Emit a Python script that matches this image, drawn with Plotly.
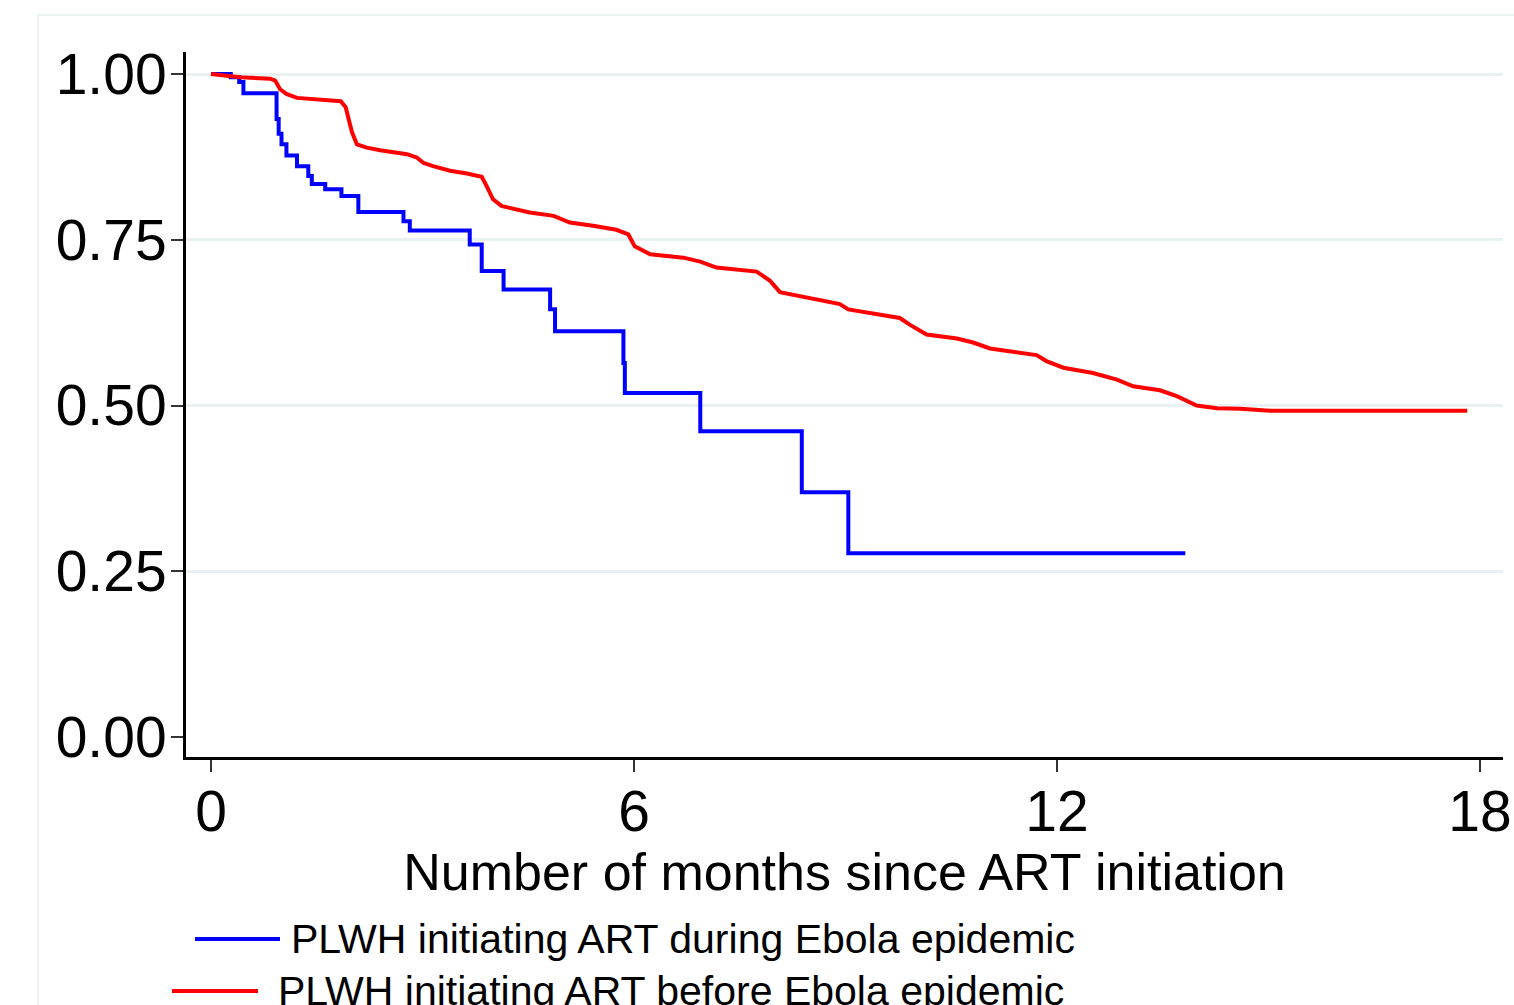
import plotly.graph_objects as go

# ---- data (months since ART initiation, survival probability) ----
during_t = [0, 0.28, 0.40, 0.46, 0.93, 0.96, 1.00, 1.07, 1.22, 1.38, 1.43, 1.62, 1.85,
            2.09, 2.73, 2.82, 3.67, 3.84, 4.15, 4.81, 4.88, 5.85, 5.87, 6.94, 8.38,
            9.04, 13.82]
during_s = [1.0, 0.995, 0.988, 0.971, 0.932, 0.910, 0.894, 0.877, 0.861, 0.846, 0.834,
            0.826, 0.816, 0.792, 0.778, 0.764, 0.743, 0.703, 0.675, 0.645, 0.612,
            0.564, 0.519, 0.461, 0.369, 0.277, 0.277]

before_t = [0, 0.41, 0.84, 0.91, 0.98, 1.07, 1.22, 1.55, 1.84, 1.91, 1.95, 2.00, 2.07,
            2.21, 2.40, 2.78, 2.92, 3.01, 3.15, 3.39, 3.63, 3.84, 3.91, 4.00, 4.12,
            4.52, 4.86, 5.09, 5.42, 5.75, 5.92, 6.01, 6.23, 6.70, 6.94, 7.17, 7.74,
            7.93, 8.07, 8.59, 8.92, 9.04, 9.30, 9.77, 9.91, 10.15, 10.58, 10.81,
            11.05, 11.48, 11.71, 11.85, 12.09, 12.51, 12.85, 13.08, 13.46, 13.70,
            13.98, 14.27, 14.60, 15.02, 17.82]
before_s = [1.0, 0.995, 0.993, 0.990, 0.977, 0.970, 0.964, 0.961, 0.959, 0.950, 0.932,
            0.912, 0.894, 0.889, 0.885, 0.879, 0.874, 0.866, 0.861, 0.854, 0.850,
            0.845, 0.831, 0.811, 0.801, 0.791, 0.786, 0.776, 0.771, 0.765, 0.758,
            0.740, 0.728, 0.723, 0.717, 0.708, 0.702, 0.688, 0.671, 0.660, 0.653,
            0.645, 0.640, 0.632, 0.622, 0.607, 0.601, 0.595, 0.586, 0.580, 0.576,
            0.567, 0.557, 0.549, 0.539, 0.529, 0.523, 0.514, 0.500, 0.496, 0.495,
            0.492, 0.492]

x_ticks = [0, 6, 12, 18]
y_ticks = [0, 0.25, 0.5, 0.75, 1.0]
x_title = "Number of months since ART initiation"
label_during = "PLWH initiating ART during Ebola epidemic"
label_before = "PLWH initiating ART before Ebola epidemic"

FONT = "Liberation Sans, Arial, sans-serif"
W, H = 1514, 1005
L, R, T, B = 186, 11, 52, 248
PW, PH = W - L - R, H - T - B


def px_x(px):
    return (px - L) / PW


def px_y(py):
    return (H - B - py) / PH


fig = go.Figure()
fig.add_trace(go.Scatter(x=during_t, y=during_s, mode="lines", line_shape="hv",
                         line=dict(color="#0000ff", width=4), name=label_during,
                         showlegend=False))
fig.add_trace(go.Scatter(x=before_t, y=before_s, mode="lines",
                         line=dict(color="#ff0000", width=4), name=label_before,
                         showlegend=False))

# legend drawn as keys + text (two centred rows like the original)
legend_rows = [
    (label_during, "#0000ff", 195, 280, 289, 939),
    (label_before, "#ff0000", 172, 258, 276, 991),
]
shapes = [dict(type="rect", xref="paper", yref="paper", x0=px_x(38), x1=1.2,
               y0=-1.0, y1=px_y(15), line=dict(color="#eef3f4", width=2),
               fillcolor="rgba(0,0,0,0)", layer="below")]
annotations = []
for text, col, lx0, lx1, tx, cy in legend_rows:
    shapes.append(dict(type="line", xref="paper", yref="paper",
                       x0=px_x(lx0), x1=px_x(lx1), y0=px_y(cy), y1=px_y(cy),
                       line=dict(color=col, width=4)))
    annotations.append(dict(text=text, xref="paper", yref="paper", x=px_x(tx),
                            y=px_y(cy), xanchor="left", yanchor="middle",
                            showarrow=False, font=dict(family=FONT, size=41,
                                                       color="black")))

fig.update_layout(
    width=W, height=H,
    margin=dict(l=L, r=R, t=T, b=B, pad=0),
    paper_bgcolor="white", plot_bgcolor="white",
    font=dict(family=FONT, color="black"),
    shapes=shapes, annotations=annotations,
    xaxis=dict(range=[-25 / 70.5, (1503 - 211) / 70.5], tickvals=x_ticks,
               automargin=False,
               showgrid=False, zeroline=False, showline=True, linecolor="black",
               linewidth=3, ticks="outside", ticklen=12, tickwidth=1.5,
               tickcolor="#333333", tickfont=dict(family=FONT, size=57),
               ticklabelstandoff=-9,
               title=dict(text=x_title, font=dict(family=FONT, size=52),
                          standoff=0)),
    yaxis=dict(range=[-20 / 663, 1 + 22 / 663], tickvals=y_ticks, tickformat=".2f",
               automargin=False,
               showgrid=True, gridcolor="#e9f1f3", gridwidth=3,
               zeroline=True, zerolinecolor="white", zerolinewidth=4,
               showline=True, linecolor="black", linewidth=3, ticks="outside",
               ticklen=12, tickwidth=1.5, tickcolor="#333333",
               tickfont=dict(family=FONT, size=57), ticklabelstandoff=-7),
)

fig.write_html("out.html", config={"displayModeBar": False},
               post_script="document.body.style.margin='0';")
